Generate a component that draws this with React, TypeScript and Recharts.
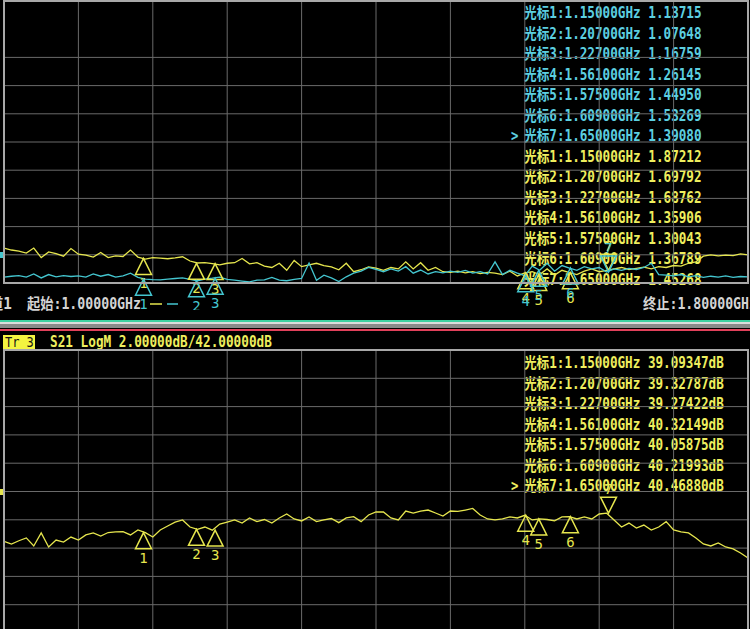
import React from 'react';
import { LineChart, Line, XAxis, YAxis, CartesianGrid, ReferenceDot } from 'recharts';

// sweep definition (instrument settings)
const START_GHZ = 1.0;
const STOP_GHZ = 1.8;
const POINTS = 101;
const FREQS = Array.from({ length: POINTS }, (_, i) => +(START_GHZ + (i * (STOP_GHZ - START_GHZ)) / (POINTS - 1)).toFixed(4));

const X_TICKS = [1.0, 1.08, 1.16, 1.24, 1.32, 1.4, 1.48, 1.56, 1.64, 1.72, 1.8];
const SWR_TICKS = [1, 2, 3, 4, 5, 6, 7, 8, 9, 10, 11];
const DB_TICKS = [32, 34, 36, 38, 40, 42, 44, 46, 48, 50, 52];

// Tr1 / Tr2 : SWR traces
const SWR_YELLOW = [
  2.24, 2.17, 2.13, 2.06, 2.24, 1.9, 2.1, 2.04, 1.95, 2.22,
  2.02, 1.99, 1.92, 2.08, 1.9, 1.96, 1.94, 2.17, 1.92, 1.85,
  1.9, 1.88, 1.86, 1.89, 1.93, 1.78, 1.71, 1.72, 1.69, 1.64,
  1.7, 1.72, 1.87, 1.68, 1.72, 1.6, 1.55, 1.7, 1.45, 1.8,
  1.58, 1.64, 1.7, 1.62, 1.57, 1.47, 1.7, 1.4, 1.47, 1.57,
  1.53, 1.45, 1.55, 1.5, 1.75, 1.5, 1.72, 1.45, 1.55, 1.4,
  1.38, 1.42, 1.36, 1.4, 1.33, 1.38, 1.35, 1.3, 1.42, 1.25,
  1.36, 1.4, 1.3, 1.5, 1.28, 1.45, 1.37, 1.3, 1.42, 1.5,
  1.4, 1.45, 1.5, 1.55, 1.48, 1.52, 1.56, 1.5, 1.58, 1.55,
  1.62, 1.6, 1.7, 1.75, 1.95, 2.0, 1.96, 1.99, 1.97, 2.03,
  2.0,
];
const SWR_CYAN = [
  1.21, 1.24, 1.26, 1.21, 1.32, 1.18, 1.3, 1.22, 1.26, 1.23,
  1.25, 1.21, 1.32, 1.24, 1.3, 1.21, 1.25, 1.35, 1.2, 1.14,
  1.12, 1.11, 1.14, 1.16, 1.18, 1.13, 1.08, 1.14, 1.17, 1.21,
  1.13, 1.1, 1.07, 1.04, 1.1, 1.11, 1.2, 1.1, 1.08, 1.13,
  1.16, 1.71, 1.1, 1.28, 1.18, 1.05, 1.22, 1.35, 1.42, 1.55,
  1.48, 1.4, 1.5, 1.42, 1.58, 1.35, 1.46, 1.32, 1.4, 1.36,
  1.42, 1.38, 1.45, 1.35, 1.4, 1.32, 1.75, 1.3, 1.45, 1.35,
  1.26, 1.6, 1.45, 1.7, 1.42, 1.62, 1.53, 1.45, 1.58, 1.5,
  1.55, 1.39, 1.5, 1.45, 1.52, 1.48, 1.55, 1.7, 1.3, 1.28,
  1.25, 1.3, 1.22, 1.26, 1.2, 1.24, 1.21, 1.25, 1.2, 1.23,
  1.22,
];
// Tr3 : S21 LogM
const S21_DB = [
  38.48, 38.29, 38.52, 38.72, 38.15, 39.07, 38.08, 38.57, 38.43, 38.78,
  38.57, 38.93, 39.07, 38.85, 39.1, 39.14, 39.16, 38.93, 39.28, 39.09,
  38.78, 39.28, 39.56, 39.84, 39.99, 39.49, 39.33, 39.49, 39.27, 39.7,
  39.84, 39.99, 39.77, 40.13, 39.87, 40.02, 39.77, 40.13, 40.41, 40.06,
  39.92, 40.2, 39.87, 39.99, 40.09, 39.8, 40.13, 40.22, 39.87, 40.34,
  40.55, 40.55, 40.13, 39.99, 40.62, 40.48, 40.62, 40.69, 40.48, 40.27,
  40.62, 40.59, 40.69, 40.8, 40.34, 40.06, 39.99, 40.06, 40.2, 40.13,
  40.32, 39.99, 40.06, 40.02, 39.92, 40.2, 40.22, 40.06, 40.2, 40.06,
  40.41, 40.47, 39.99, 39.49, 39.77, 39.42, 39.63, 39.28, 39.49, 39.87,
  39.28, 39.14, 39.07, 38.72, 38.29, 38.15, 38.36, 38.08, 37.94, 37.65,
  37.3,
];

const MARKER_FREQS = [1.15, 1.207, 1.227, 1.561, 1.575, 1.609, 1.65];
const MARKER_SWR_CYAN = [1.13715, 1.07648, 1.16759, 1.26145, 1.4495, 1.53269, 1.3908];
const MARKER_SWR_YELLOW = [1.87212, 1.69792, 1.68762, 1.35906, 1.30043, 1.36789, 1.45268];
const MARKER_DB = [39.09347, 39.32787, 39.27422, 40.32149, 40.05875, 40.21993, 40.4688];
const ACTIVE_MARKER = 7;

const YELLOW = '#e6e64e';
const CYAN = '#44c6d0';
const T_YELLOW = '#eeee5e';
const T_CYAN = '#5ccfe0';
const GRID = '#6a6a6a';
const BORDER = '#a8a8a8';
const MONO = "'DejaVu Sans Mono','Noto Sans CJK SC',monospace";

const topData = FREQS.map((f, i) => ({ f, y: SWR_YELLOW[i], c: SWR_CYAN[i] }));
const botData = FREQS.map((f, i) => ({ f, db: S21_DB[i] }));

const Txt = ({ x, y, s, color, cw = 7.4, size = 15, weight = 'bold' }: any) => {
  const n = [...s].reduce((a: number, ch: string) => a + (ch.charCodeAt(0) > 0x2e80 ? 2 : 1), 0);
  return (
    <text x={x} y={y} fill={color} fontSize={size} fontWeight={weight} fontFamily={MONO} textLength={n * cw} lengthAdjust="spacingAndGlyphs" dominantBaseline="central">
      {s}
    </text>
  );
};

const triShape = (color: string, n: number) => (props: any) => {
  const { cx, cy } = props;
  const inv = n === ACTIVE_MARKER;
  const d = inv ? 16 : -16;
  const pts = `${cx},${cy} ${cx - 8},${cy - d} ${cx + 8},${cy - d}`;
  return (
    <g>
      <polygon points={pts} fill="none" stroke={color} strokeWidth={1.5} />
      <text x={cx} y={inv ? cy - 24 : cy + 25} fill={color} fontSize={14} fontFamily={MONO} textAnchor="middle" dominantBaseline="central">{n}</text>
    </g>
  );
};

const fmt = (v: number) => v.toFixed(5);

export default function App() {
  const topRows = [
    ...MARKER_FREQS.map((f, i) => ({ s: `光标${i + 1}:${fmt(f)}GHz ${fmt(MARKER_SWR_CYAN[i])}`, color: T_CYAN })),
    ...MARKER_FREQS.map((f, i) => ({ s: `光标${i + 1}:${fmt(f)}GHz ${fmt(MARKER_SWR_YELLOW[i])}`, color: T_YELLOW })),
  ];
  const botRows = MARKER_FREQS.map((f, i) => `光标${i + 1}:${fmt(f)}GHz ${fmt(MARKER_DB[i])}dB`);

  return (
    <div style={{ position: 'fixed', left: 0, top: 0, width: 750, height: 629, overflow: 'hidden', background: '#000' }}>
      {/* texts */}
      <svg width={750} height={629} style={{ position: 'absolute', left: 0, top: 0 }}>
        {topRows.map((r, i) => <Txt key={i} x={524} y={13.3 + 20.5 * i} s={r.s} color={r.color} />)}
        <Txt x={511} y={136} s=">" color={T_CYAN} />
        {botRows.map((s, i) => <Txt key={i} x={524} y={363 + 20.5 * i} s={s} color={T_YELLOW} />)}
        <Txt x={511} y={486} s=">" color={T_YELLOW} />
        <Txt x={-11} y={304} s="道1" color="#d4d4d4" cw={7.6} />
        <Txt x={27} y={304} s="起始:1.00000GHz" color="#d4d4d4" cw={7.6} />
        <Txt x={643} y={304} s="终止:1.80000GHz" color="#d4d4d4" cw={7.6} />
        <rect x={3} y={335} width={32} height={14} fill="#f4f440" />
        <Txt x={5} y={342} s="Tr 3" color="#141414" cw={7.2} size={14} weight="normal" />
        <Txt x={50} y={342} s="S21 LogM 2.00000dB/42.00000dB" color={T_YELLOW} cw={7.65} />
        <line x1={150} x2={162} y1={304} y2={304} stroke={YELLOW} strokeWidth={1.5} />
        <line x1={167} x2={178} y1={304} y2={304} stroke={CYAN} strokeWidth={1.5} />
      </svg>

      {/* separator */}
      <div style={{ position: 'absolute', left: 0, top: 320, width: 750, height: 2, background: '#3fd0a0' }} />
      <div style={{ position: 'absolute', left: 0, top: 322, width: 750, height: 2, background: '#dcdcdc' }} />
      <div style={{ position: 'absolute', left: 0, top: 324, width: 750, height: 4, background: '#8a8a8a' }} />
      <div style={{ position: 'absolute', left: 0, top: 329, width: 750, height: 2, background: '#e0405a' }} />

      {/* top: SWR */}
      <div style={{ position: 'absolute', left: 0, top: 0 }}>
        <LineChart width={750} height={310} data={topData} margin={{ top: 1, right: 2, left: 4, bottom: 27 }}>
          <CartesianGrid stroke={GRID} strokeWidth={1} />
          <XAxis dataKey="f" type="number" domain={[START_GHZ, STOP_GHZ]} ticks={X_TICKS} hide allowDataOverflow />
          <YAxis type="number" domain={[1, 11]} ticks={SWR_TICKS} hide allowDataOverflow />
          <Line type="linear" dataKey="y" stroke={YELLOW} strokeWidth={1.3} dot={false} isAnimationActive={false} />
          <Line type="linear" dataKey="c" stroke={CYAN} strokeWidth={1.3} dot={false} isAnimationActive={false} />
          {MARKER_FREQS.map((f, i) => (
            <ReferenceDot key={`y${i}`} x={f} y={MARKER_SWR_YELLOW[i]} r={0} ifOverflow="visible" shape={triShape(YELLOW, i + 1)} />
          ))}
          {MARKER_FREQS.map((f, i) => (
            <ReferenceDot key={`c${i}`} x={f} y={MARKER_SWR_CYAN[i]} r={0} ifOverflow="visible" shape={triShape(CYAN, i + 1)} />
          ))}
        </LineChart>
      </div>
      <div style={{ position: 'absolute', left: 3, top: 0, width: 746, height: 284, border: `2px solid ${BORDER}`, boxSizing: 'border-box' }} />
      <div style={{ position: 'absolute', left: 0, top: 252, width: 3, height: 6, background: CYAN }} />

      {/* bottom: S21 */}
      <div style={{ position: 'absolute', left: 0, top: 340 }}>
        <LineChart width={750} height={300} data={botData} margin={{ top: 10, right: 2, left: 4, bottom: 7 }}>
          <CartesianGrid stroke={GRID} strokeWidth={1} />
          <XAxis dataKey="f" type="number" domain={[START_GHZ, STOP_GHZ]} ticks={X_TICKS} hide allowDataOverflow />
          <YAxis type="number" domain={[32, 52]} ticks={DB_TICKS} hide allowDataOverflow />
          <Line type="linear" dataKey="db" stroke={YELLOW} strokeWidth={1.3} dot={false} isAnimationActive={false} />
          {MARKER_FREQS.map((f, i) => (
            <ReferenceDot key={`d${i}`} x={f} y={MARKER_DB[i]} r={0} ifOverflow="visible" shape={triShape(YELLOW, i + 1)} />
          ))}
        </LineChart>
      </div>
      <div style={{ position: 'absolute', left: 3, top: 349, width: 746, height: 300, border: `2px solid ${BORDER}`, boxSizing: 'border-box' }} />
      <div style={{ position: 'absolute', left: 0, top: 489, width: 3, height: 6, background: YELLOW }} />
    </div>
  );
}
